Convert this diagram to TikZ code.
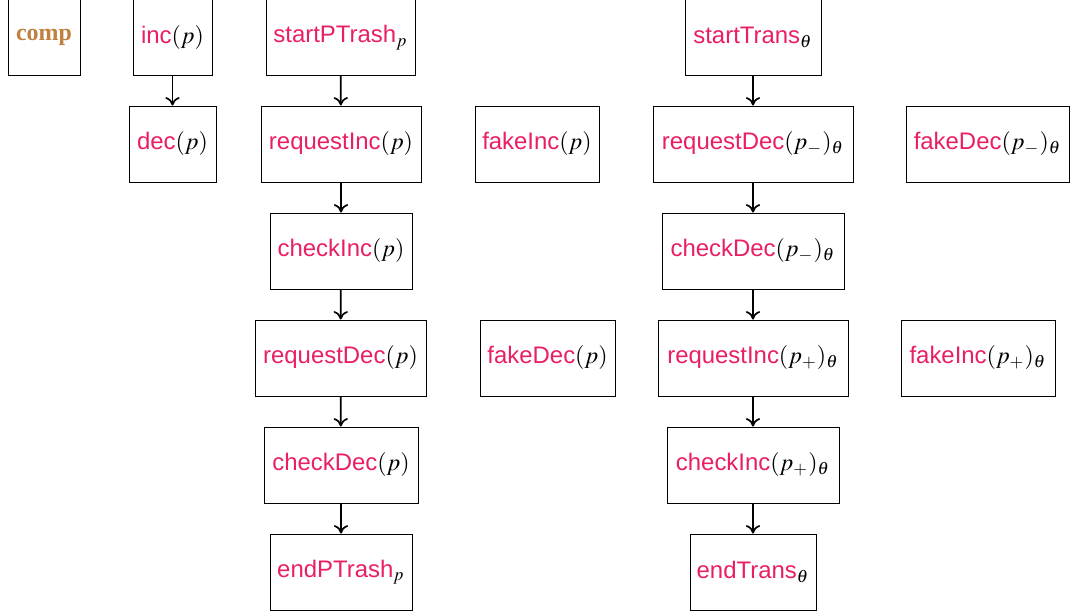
\documentclass[tikz,border=0pt]{standalone}
\usepackage{mathptmx}
\usepackage{fontspec}
\setmainfont{Liberation Serif}
\setsansfont{Liberation Sans}
\usetikzlibrary{arrows.meta}
\definecolor{fnpink}{RGB}{233,30,99}
\definecolor{compbrown}{RGB}{192,128,64}
\newcommand{\fn}[1]{{\color{fnpink}\sffamily #1}}
\tikzset{
  box/.style={draw, line width=0.4pt, inner sep=0pt, minimum height=76*0.418pt, font=\fontsize{10}{12}\selectfont},
  flow/.style={-{To[length=3.5pt,width=6pt]}, line width=0.7pt}
}
\begin{document}
\begin{tikzpicture}[x=0.418pt, y=-0.418pt]
\useasboundingbox (0,0) rectangle (1070,615);
% row 1
\node[box, minimum width=72*0.418pt] (comp) at (44,37.5) {\textbf{\color{compbrown}comp}};
\node[box, minimum width=79*0.418pt] (inc) at (172.5,37.5) {\fn{inc}$(p)$};
\node[box, minimum width=149*0.418pt] (spt) at (340.5,37.5) {\fn{startPTrash}$_p$};
\node[box, minimum width=136*0.418pt] (st) at (753,37.5) {\fn{startTrans}$_\theta$};
% row 2
\node[box, minimum width=87*0.418pt] (dec) at (172.5,144) {\fn{dec}$(p)$};
\node[box, minimum width=160*0.418pt] (rqi) at (341,144) {\fn{requestInc}$(p)$};
\node[box, minimum width=124*0.418pt] (fki) at (537,144) {\fn{fakeInc}$(p)$};
\node[box, minimum width=200*0.418pt] (rqdt) at (753,144) {\fn{requestDec}$(p_-)_\theta$};
\node[box, minimum width=163*0.418pt] (fkdt) at (987.5,144) {\fn{fakeDec}$(p_-)_\theta$};
% row 3
\node[box, minimum width=142*0.418pt] (cki) at (341,251) {\fn{checkInc}$(p)$};
\node[box, minimum width=182*0.418pt] (ckdt) at (753,251) {\fn{checkDec}$(p_-)_\theta$};
% row 4
\node[box, minimum width=171*0.418pt] (rqd) at (340.5,358) {\fn{requestDec}$(p)$};
\node[box, minimum width=135*0.418pt] (fkd) at (547.5,358) {\fn{fakeDec}$(p)$};
\node[box, minimum width=190*0.418pt] (rqit) at (753,358) {\fn{requestInc}$(p_+)_\theta$};
\node[box, minimum width=154*0.418pt] (fkit) at (978,358) {\fn{fakeInc}$(p_+)_\theta$};
% row 5
\node[box, minimum width=154*0.418pt] (ckd) at (341,465) {\fn{checkDec}$(p)$};
\node[box, minimum width=172*0.418pt] (ckit) at (753,465) {\fn{checkInc}$(p_+)_\theta$};
% row 6
\node[box, minimum width=142*0.418pt] (ept) at (341,572) {\fn{endPTrash}$_p$};
\node[box, minimum width=126*0.418pt] (et) at (753,572) {\fn{endTrans}$_\theta$};
% arrows
\draw[flow] (inc) -- (dec);
\draw[flow] (spt) -- (rqi);
\draw[flow] (rqi) -- (cki);
\draw[flow] (cki) -- (rqd);
\draw[flow] (rqd) -- (ckd);
\draw[flow] (ckd) -- (ept);
\draw[flow] (st) -- (rqdt);
\draw[flow] (rqdt) -- (ckdt);
\draw[flow] (ckdt) -- (rqit);
\draw[flow] (rqit) -- (ckit);
\draw[flow] (ckit) -- (et);
\end{tikzpicture}
\end{document}
